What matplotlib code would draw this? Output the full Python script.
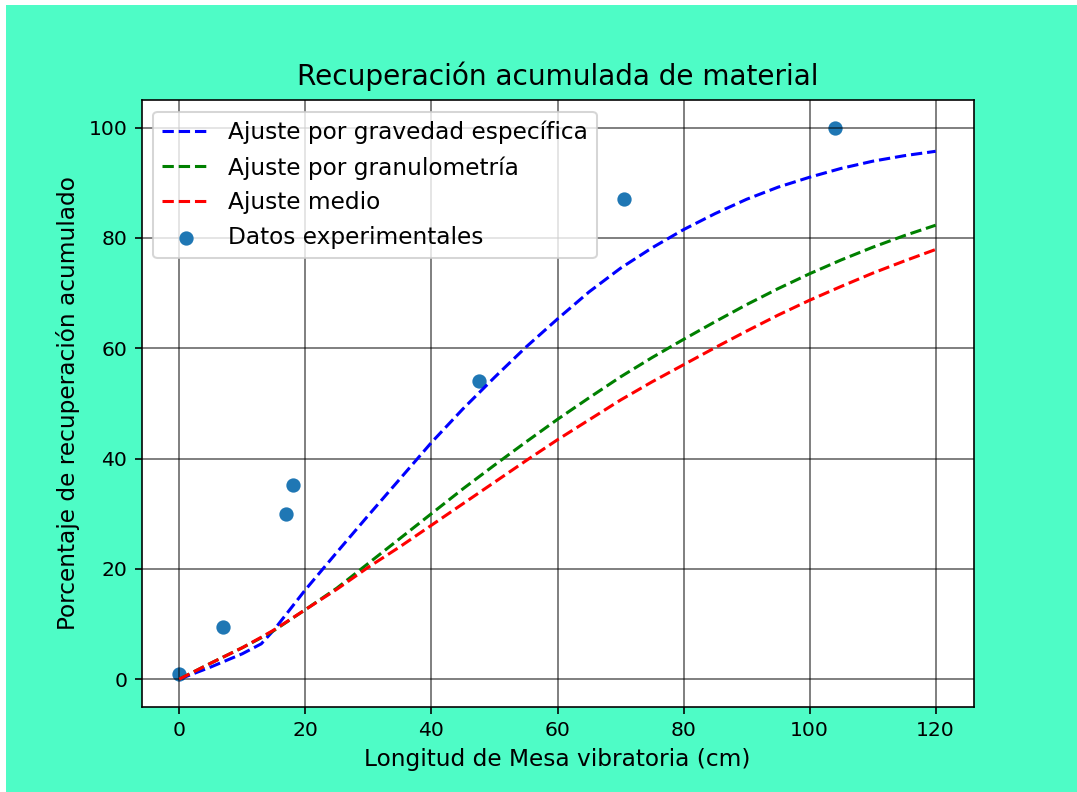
import matplotlib
matplotlib.use("Agg")
import matplotlib.pyplot as plt
from matplotlib.patches import Rectangle

# Experimental data
x_exp = [0, 7, 17, 18, 47.5, 70.5, 104]
y_exp = [1.0, 9.4, 30.0, 35.2, 54.0, 87.0, 100.0]

# Fitted curves
x_fit = [0, 5, 10, 13, 15, 20, 25, 30, 35, 40, 45, 50, 55, 60, 65, 70, 75,
         80, 85, 90, 95, 100, 105, 110, 115, 120]
y_grav = [0, 2.2, 4.6, 6.4, 8.9, 16.2, 23.0, 29.7, 36.3, 42.9, 49.0, 54.7,
          60.2, 65.3, 70.2, 74.5, 78.2, 81.5, 84.4, 87.0, 89.2, 91.0, 92.6,
          93.9, 94.9, 95.7]
y_gran = [0, 2.9, 5.7, 7.5, 8.8, 12.6, 16.5, 21.0, 25.5, 30.0, 34.5, 38.8,
          43.0, 47.1, 51.0, 54.8, 58.3, 61.6, 64.8, 67.9, 70.8, 73.5, 76.0,
          78.3, 80.4, 82.3]
y_medio = [0, 2.9, 5.7, 7.6, 8.9, 12.6, 16.3, 20.3, 24.0, 27.9, 31.8, 35.7,
           39.6, 43.4, 47.0, 50.6, 53.9, 57.0, 60.1, 63.1, 66.0, 68.7, 71.2,
           73.6, 75.8, 77.9]

DPI = 147
fig = plt.figure(figsize=(1077 / DPI, 792 / DPI), dpi=DPI, facecolor="#4efcc6")
ax = fig.add_axes([141.5 / 1077, (792 - 706.7) / 792, 832 / 1077, 606.7 / 792])

ax.plot(x_fit, y_grav, "--", color="blue", label="Ajuste por gravedad específica")
ax.plot(x_fit, y_gran, "--", color="green", label="Ajuste por granulometría")
ax.plot(x_fit, y_medio, "--", color="red", label="Ajuste medio")
ax.scatter(x_exp, y_exp, color="#1f77b4", label="Datos experimentales")

ax.set_title("Recuperación acumulada de material", fontsize=13.7, pad=7.5)
ax.set_xlabel("Longitud de Mesa vibratoria (cm)", fontsize=11.4)
ax.set_ylabel("Porcentaje de recuperación acumulado", fontsize=11.4)
ax.tick_params(labelsize=10)
ax.grid(True, color="black", alpha=0.6)
ax.legend(loc="upper left", fontsize=11.4)

# white strips at top/left edges of the screenshot
fig.patches.append(Rectangle((0, 1 - 5 / 792), 1, 5 / 792, transform=fig.transFigure,
                             facecolor="white", edgecolor="none", zorder=10))
fig.patches.append(Rectangle((0, 0), 6 / 1077, 1, transform=fig.transFigure,
                             facecolor="white", edgecolor="none", zorder=10))

fig.savefig("out.png", dpi=DPI, facecolor=fig.get_facecolor())
